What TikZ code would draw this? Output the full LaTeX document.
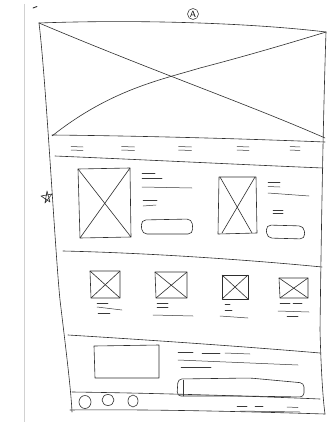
\documentclass[tikz,border=0pt]{standalone}
\begin{document}
\begin{tikzpicture}[x=1pt,y=-1pt,
  pen/.style={draw=black!82,line width=0.6pt,line cap=round,line join=round},
  thin/.style={draw=black!78,line width=0.5pt,line cap=round},
  edge/.style={draw=black!18,line width=0.8pt}]
\useasboundingbox[fill=white] (0,0) rectangle (331,422);
% paper edge
\draw[edge] (24,4) -- (24,422);
% small mark
\draw[pen,line width=0.9pt] (33,8) -- (37,6.5);
% circled A
\node[draw=black!80,line width=0.55pt,circle,minimum size=11pt,inner sep=0pt,font=\sffamily\small] (lblA) at (193,14) {A};
% outer page frame
\draw[pen] (39,23) .. controls (150,19) and (260,24) .. (326,32);
\draw[pen] (39,23) .. controls (46,80) and (55,250) .. (60,300) .. controls (66,350) and (71,390) .. (72,412);
\draw[pen] (326,32) .. controls (323,120) and (321,250) .. (320,330) .. controls (321,370) and (323,400) .. (325,414);
\draw[pen] (70,410) .. controls (150,409) and (260,412) .. (325,414);
% hero
\draw[pen] (52,135) .. controls (150,136) and (250,139) .. (325,142);
\draw[pen] (39,23) .. controls (150,70) and (250,105) .. (325,138);
\draw[pen] (52,136) .. controls (110,90) and (160,80) .. (200,68) .. controls (250,55) and (300,40) .. (326,32);
% nav bar
\draw[pen] (55,156) .. controls (150,160) and (250,165) .. (323,168);
\foreach \x/\w in {77/12,128/13,185/13,243/12,295/10}{
  \draw[thin] (\x-\w/2,146.5) -- (\x+\w/2,147);
  \draw[thin] (\x-\w/2,150) -- (\x+\w/2,150.5);
}
% star
\draw[pen] (47,191) -- (45,203) -- (52,194) -- (41,196) -- (50,202) -- cycle;
% section 1 : left product
\draw[pen] (78,169) -- (130,168) -- (131,237) -- (80,238) -- cycle;
\draw[pen] (78,169) -- (131,237);
\draw[pen] (130,168) -- (80,238);
\draw[thin] (142,173) -- (155,173);
\draw[thin] (142,178) -- (162,178);
\draw[thin] (142,187) -- (192,188);
\draw[thin] (143,200) -- (157,200);
\draw[thin] (143,206) -- (156,205);
\draw[pen,rounded corners=5pt] (141,220) -- (192,219) -- (193,234) -- (142,234) -- cycle;
% section 1 : right product
\draw[pen] (219,177) -- (256,177) -- (257,233) -- (218,234) -- cycle;
\draw[pen] (220,177) -- (252,233);
\draw[pen] (255,177) -- (222,233);
\draw[thin] (268,182) -- (280,182);
\draw[thin] (268,186.5) -- (280,187);
\draw[thin] (268,193) -- (309,196);
\draw[thin] (273,210) -- (283,210);
\draw[thin] (273,213.5) -- (283,213.5);
\draw[pen,rounded corners=5pt] (266,225) -- (304,226) -- (305,239) -- (267,238) -- cycle;
% divider 1
\draw[pen] (63,251) .. controls (150,253) and (250,260) .. (322,267);
% section 2 : four products
\draw[pen] (90,271) -- (120,271) -- (120,298) -- (91,298) -- cycle;
\draw[pen] (90,271) -- (120,298);  \draw[pen] (120,271) -- (91,298);
\draw[thin] (97,303) -- (108,303);
\draw[thin] (97,307) -- (122,310);
\draw[thin] (98,313) -- (110,313);
\draw[pen] (155,272) -- (187,272) -- (187,298) -- (156,298) -- cycle;
\draw[pen] (155,272) -- (187,298);  \draw[pen] (187,272) -- (156,298);
\draw[thin] (157,303) -- (168,303);
\draw[thin] (157,307) -- (168,307);
\draw[thin] (153,315) -- (193,316);
\draw[pen] (222,275) -- (248,275) -- (248,299) -- (222,299) -- cycle;
\draw[pen] (222,275) -- (248,299);  \draw[pen] (248,275) -- (222,299);
\draw[thin] (225,304) -- (230,304);
\draw[thin] (225,310) -- (232,310);
\draw[thin] (220,316) -- (248,318);
\draw[pen] (279,278) -- (308,278) -- (308,298) -- (280,298) -- cycle;
\draw[pen] (279,278) -- (308,298);  \draw[pen] (308,278) -- (280,298);
\draw[thin] (280,303) -- (290,303);
\draw[thin] (293,303) -- (302,303);
\draw[thin] (278,311) -- (309,312);
\draw[thin] (287,316) -- (298,316);
% divider 2
\draw[pen] (68,335) .. controls (150,340) and (250,347) .. (320,353);
% section 3
\draw[pen] (94,346) -- (159,345) -- (159,378) -- (95,378) -- cycle;
\draw[thin] (178,352) -- (193,352);
\draw[thin] (202,353) -- (220,353);
\draw[thin] (225,353) -- (250,354);
\draw[thin] (178,360) -- (298,365);
\draw[thin] (181,367) -- (211,367);
\draw[pen,rounded corners=4pt] (177,396) -- (178,379) -- (250,378) -- (304,383) -- (304,397) -- (240,396) -- cycle;
\draw[thin] (183,380) -- (183,396);
% footer
\draw[pen] (72,392) .. controls (150,393) and (250,396) .. (320,399);
\draw[pen] (85,402) ellipse (6 and 6.5);
\draw[pen] (108,400) ellipse (6 and 5.5);
\draw[pen] (133,401) ellipse (5 and 6);
\draw[thin] (237,406) -- (247,406);
\draw[thin] (255,406) -- (263,406);
\draw[thin] (287,407) -- (298,407.5);
\draw[thin] (240,411) -- (300,412);
\end{tikzpicture}
\end{document}
